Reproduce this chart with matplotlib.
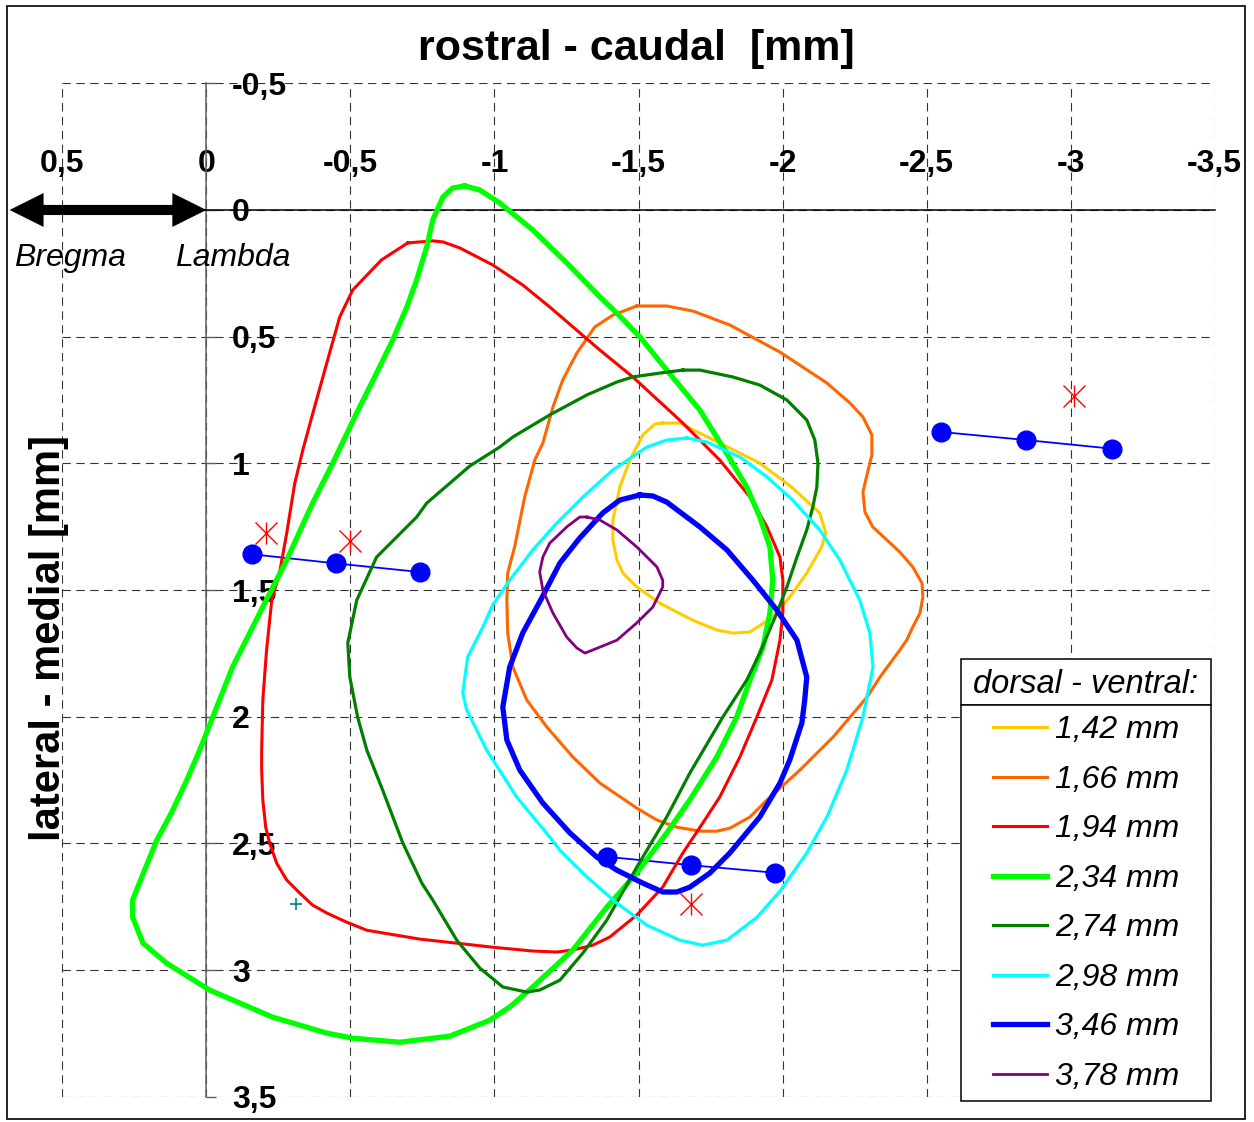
import matplotlib.pyplot as plt
from matplotlib.patches import Rectangle
from matplotlib.font_manager import FontProperties

plt.rcParams['font.family'] = ['Liberation Sans', 'DejaVu Sans']
plt.rcParams['lines.scale_dashes'] = False

# contour outlines, dorsal-ventral depth -> (rostral-caudal x, lateral-medial y) in mm
x_142 = [-1.584, -1.643, -1.782, -1.921, -2.035, -2.129, -2.150, -2.136, -2.084, -2.025, -1.966, -1.886,
         -1.827, -1.772, -1.688, -1.574, -1.494, -1.446, -1.425, -1.411, -1.411, -1.435, -1.470, -1.515, -1.557]
y_142 = [0.841, 0.841, 0.920, 0.999, 1.097, 1.196, 1.275, 1.330, 1.433, 1.528, 1.607, 1.666,
         1.670, 1.658, 1.619, 1.552, 1.488, 1.433, 1.382, 1.303, 1.224, 1.094, 0.987, 0.888, 0.845]

x_166 = [-1.494, -1.598, -1.689, -1.817, -1.991, -2.154, -2.234, -2.279, -2.310, -2.310, -2.293, -2.279,
         -2.286, -2.313, -2.407, -2.452, -2.484, -2.487, -2.477, -2.452, -2.431, -2.407, -2.338, -2.293,
         -2.175, -2.060, -1.946, -1.887, -1.817, -1.772, -1.713, -1.633, -1.564, -1.494, -1.366, -1.272,
         -1.182, -1.112, -1.064, -1.046, -1.043, -1.046, -1.070, -1.105, -1.140, -1.168, -1.203, -1.237,
         -1.286, -1.348, -1.411]
y_166 = [0.379, 0.379, 0.399, 0.454, 0.561, 0.683, 0.762, 0.817, 0.888, 0.967, 1.046, 1.113,
         1.192, 1.251, 1.350, 1.409, 1.473, 1.528, 1.591, 1.646, 1.698, 1.737, 1.844, 1.923,
         2.081, 2.211, 2.329, 2.396, 2.440, 2.452, 2.452, 2.436, 2.408, 2.361, 2.262, 2.159,
         2.041, 1.934, 1.804, 1.670, 1.540, 1.433, 1.330, 1.133, 0.987, 0.920, 0.778, 0.671,
         0.565, 0.462, 0.415]

x_194 = [-0.699, -0.786, -0.821, -0.880, -0.994, -1.098, -1.192, -1.366, -1.480, -1.654, -1.782, -1.887,
         -1.946, -1.991, -2.001, -2.001, -1.991, -1.963, -1.911, -1.852, -1.782, -1.723, -1.654, -1.584,
         -1.494, -1.400, -1.341, -1.272, -1.216, -1.133, -0.994, -0.869, -0.741, -0.557, -0.487, -0.418,
         -0.369, -0.324, -0.279, -0.244, -0.220, -0.206, -0.196, -0.192, -0.192, -0.196, -0.209, -0.227,
         -0.254, -0.279, -0.307, -0.335, -0.366, -0.421, -0.463, -0.508, -0.608]
y_194 = [0.130, 0.122, 0.126, 0.150, 0.217, 0.296, 0.383, 0.553, 0.659, 0.841, 0.987, 1.133,
         1.251, 1.370, 1.461, 1.591, 1.698, 1.855, 2.001, 2.159, 2.317, 2.420, 2.538, 2.673,
         2.783, 2.870, 2.902, 2.921, 2.929, 2.925, 2.910, 2.894, 2.878, 2.843, 2.811, 2.775,
         2.744, 2.696, 2.645, 2.578, 2.499, 2.436, 2.329, 2.211, 2.132, 1.934, 1.737, 1.540,
         1.433, 1.275, 1.078, 0.947, 0.817, 0.592, 0.422, 0.316, 0.197]

x_234 = [-0.897, -0.949, -1.018, -1.133, -1.251, -1.366, -1.425, -1.505, -1.598, -1.713, -1.793, -1.876,
         -1.921, -1.956, -1.966, -1.956, -1.932, -1.887, -1.841, -1.772, -1.678, -1.598, -1.494, -1.390,
         -1.272, -1.133, -1.053, -0.984, -0.845, -0.671, -0.508, -0.418, -0.230, -0.011, 0.138, 0.220,
         0.256, 0.256, 0.224, 0.172, 0.120, 0.068, 0.023, -0.091, -0.196, -0.279, -0.369, -0.439,
         -0.522, -0.591, -0.647, -0.696, -0.730, -0.765, -0.786, -0.821, -0.855]
y_234 = [-0.095, -0.079, -0.028, 0.079, 0.209, 0.343, 0.407, 0.501, 0.632, 0.790, 0.936, 1.094,
         1.212, 1.330, 1.461, 1.591, 1.725, 1.855, 2.001, 2.159, 2.329, 2.459, 2.617, 2.752,
         2.921, 3.067, 3.146, 3.198, 3.261, 3.285, 3.269, 3.249, 3.186, 3.079, 2.973, 2.894,
         2.791, 2.724, 2.633, 2.487, 2.377, 2.251, 2.132, 1.804, 1.567, 1.382, 1.157, 0.999,
         0.801, 0.644, 0.513, 0.383, 0.276, 0.146, 0.039, -0.051, -0.087]

x_274 = [-1.654, -1.713, -1.827, -1.921, -2.015, -2.084, -2.112, -2.123, -2.119, -2.105, -2.084, -2.050,
         -2.015, -1.980, -1.921, -1.876, -1.793, -1.678, -1.598, -1.494, -1.390, -1.307, -1.227, -1.157,
         -1.112, -1.029, -0.949, -0.869, -0.786, -0.748, -0.682, -0.612, -0.557, -0.525, -0.498, -0.491,
         -0.522, -0.591, -0.730, -0.765, -0.914, -1.018, -1.064, -1.192, -1.321, -1.425, -1.480, -1.598]
y_274 = [0.632, 0.632, 0.659, 0.691, 0.750, 0.829, 0.908, 0.999, 1.094, 1.173, 1.263, 1.370,
         1.488, 1.591, 1.749, 1.855, 2.001, 2.223, 2.396, 2.594, 2.803, 2.933, 3.040, 3.079,
         3.087, 3.067, 2.992, 2.882, 2.724, 2.657, 2.499, 2.290, 2.132, 2.001, 1.844, 1.709,
         1.540, 1.370, 1.212, 1.157, 1.011, 0.936, 0.896, 0.809, 0.730, 0.679, 0.659, 0.640]

x_298 = [-1.668, -1.737, -1.852, -1.946, -2.035, -2.129, -2.199, -2.268, -2.303, -2.314, -2.279, -2.223,
         -2.154, -2.084, -1.991, -1.911, -1.807, -1.723, -1.643, -1.529, -1.425, -1.321, -1.227, -1.192,
         -1.077, -0.973, -0.904, -0.890, -0.907, -0.960, -0.994, -1.053, -1.133, -1.216, -1.307, -1.411,
         -1.529, -1.598]
y_298 = [0.900, 0.916, 0.975, 1.054, 1.145, 1.263, 1.382, 1.540, 1.670, 1.804, 2.001, 2.211,
         2.396, 2.538, 2.689, 2.792, 2.882, 2.902, 2.882, 2.823, 2.736, 2.633, 2.527, 2.475,
         2.317, 2.132, 1.974, 1.907, 1.765, 1.646, 1.559, 1.461, 1.342, 1.236, 1.133, 1.026,
         0.936, 0.908]

x_346 = [-1.505, -1.550, -1.598, -1.713, -1.807, -1.897, -1.980, -2.050, -2.084, -2.077, -2.067, -2.025,
         -1.991, -1.921, -1.817, -1.748, -1.678, -1.633, -1.584, -1.515, -1.425, -1.355, -1.262, -1.168,
         -1.088, -1.043, -1.029, -1.053, -1.098, -1.164, -1.227, -1.296, -1.376, -1.435]
y_346 = [1.125, 1.129, 1.153, 1.251, 1.342, 1.461, 1.579, 1.698, 1.844, 1.934, 2.025, 2.171,
         2.262, 2.396, 2.538, 2.617, 2.673, 2.692, 2.692, 2.657, 2.606, 2.554, 2.459, 2.341,
         2.211, 2.092, 1.962, 1.804, 1.670, 1.532, 1.394, 1.295, 1.196, 1.145]

x_378 = [-1.321, -1.296, -1.251, -1.192, -1.168, -1.157, -1.168, -1.203, -1.251, -1.286, -1.314,
         -1.341, -1.425, -1.494, -1.550, -1.584, -1.584, -1.564, -1.494, -1.425, -1.366]
y_378 = [1.212, 1.212, 1.251, 1.315, 1.370, 1.429, 1.500, 1.591, 1.686, 1.729, 1.749,
         1.737, 1.698, 1.630, 1.567, 1.488, 1.461, 1.409, 1.330, 1.263, 1.224]

depth_labels = ['1,42 mm', '1,66 mm', '1,94 mm', '2,34 mm', '2,74 mm', '2,98 mm', '3,46 mm', '3,78 mm']

# electrode tracks (blue dots) and lesion marks
track1_x = [-0.160, -0.449, -0.741]
track1_y = [1.359, 1.395, 1.429]
track2_x = [-1.391, -1.681, -1.973]
track2_y = [2.553, 2.586, 2.616]
track3_x = [-2.549, -2.845, -3.142]
track3_y = [0.876, 0.908, 0.942]
star_x = [-0.206, -0.498, -1.683, -3.013]
star_y = [1.274, 1.306, 2.740, 0.734]
plus_x = [-0.310]
plus_y = [2.740]

x_ticks = [0.5, 0.0, -0.5, -1.0, -1.5, -2.0, -2.5, -3.0, -3.5]
x_tick_labels = ['0,5', '0', '-0,5', '-1', '-1,5', '-2', '-2,5', '-3', '-3,5']
y_ticks = [-0.5, 0.0, 0.5, 1.0, 1.5, 2.0, 2.5, 3.0, 3.5]
y_tick_labels = ['-0,5', '0', '0,5', '1', '1,5', '2', '2,5', '3', '3,5']

W, H = 1254, 1122
fig = plt.figure(figsize=(W / 100, H / 100), dpi=100)
ax = fig.add_axes([62.3 / W, 1 - 1096.7 / H, 1152.4 / W, 1013.4 / H])
ax.set_xlim(0.5, -3.5)
ax.set_ylim(3.5, -0.5)

# axes crossing at the origin
for side in ['left', 'bottom']:
    ax.spines[side].set_visible(False)
ax.spines['top'].set_position(('data', 0))
ax.spines['top'].set_color('black')
ax.spines['top'].set_linewidth(1.1)
ax.spines['right'].set_position(('data', 0))
ax.spines['right'].set_color('#606060')
ax.spines['right'].set_linewidth(1.1)
ax.xaxis.tick_top()
ax.yaxis.tick_right()
ax.set_xticks(x_ticks, x_tick_labels)
ax.set_yticks(y_ticks, y_tick_labels)
ax.tick_params(axis='x', length=0, pad=22, labelsize=23)
ax.tick_params(axis='y', length=7, width=1, color='#606060', direction='out', pad=11.5, labelsize=23)
for t in ax.get_xticklabels() + ax.get_yticklabels():
    t.set_fontweight('bold')
ax.grid(True, color='#333333', lw=0.8, linestyle=(0, (6, 4)))

# tracks and markers
for tx, ty in [(track1_x, track1_y), (track2_x, track2_y), (track3_x, track3_y)]:
    ax.plot(tx, ty, '-o', color='blue', ms=13.5, lw=1.3, zorder=2)
ax.plot(star_x, star_y, ls='none', marker='x', ms=16, mew=1, color='red', zorder=2)
ax.plot(star_x, star_y, ls='none', marker='|', ms=16.5, mew=1, color='red', zorder=2)
ax.plot(plus_x, plus_y, ls='none', marker='+', ms=8, mew=1.2, color='#008080', zorder=2)

contours = [(x_142, y_142, '#FFCC00', 2.2), (x_166, y_166, '#FF6600', 2.2),
            (x_194, y_194, '#FF0000', 2.2), (x_234, y_234, '#00FF00', 3.8),
            (x_274, y_274, '#008000', 2.3), (x_298, y_298, '#00FFFF', 2.3),
            (x_346, y_346, '#0000FF', 3.8), (x_378, y_378, '#800080', 2.0)]
handles = []
for (xs, ys, c, lw), lab in zip(contours, depth_labels):
    h, = ax.plot(xs + xs[:1], ys + ys[:1], color=c, lw=lw, label=lab, zorder=3,
                 solid_joinstyle='round')
    handles.append(h)

# Bregma <-> Lambda arrow
mid = 0.3415
for dx in [0.683 - mid, -mid]:
    ax.arrow(mid, 0, dx, 0, width=0.04, head_width=0.134, head_length=0.118,
             length_includes_head=True, color='black', lw=0, clip_on=False, zorder=4)
ax.text(0.666, 0.221, 'Bregma', ha='left', va='baseline', fontsize=23, fontstyle='italic')
ax.text(0.110, 0.221, 'Lambda', ha='left', va='baseline', fontsize=23, fontstyle='italic')

# titles
fig.text(636.5 / W, 1 - 60 / H, 'rostral - caudal  [mm]', ha='center', va='baseline',
         fontsize=31, fontweight='bold')
fig.text(49 / W, 1 - 638 / H, 'lateral - medial [mm]', ha='center', va='center',
         rotation=90, fontsize=30, fontweight='bold')

# legend with boxed title
for top, bot in [(659, 705), (705, 1100.7)]:
    ax.add_patch(Rectangle((961 / W, 1 - bot / H), 249.7 / W, (bot - top) / H,
                           transform=fig.transFigure, facecolor='white', edgecolor='black',
                           lw=1.1, clip_on=False, zorder=4.5))
fig.text(1085.9 / W, 1 - 692.7 / H, 'dorsal - ventral:', ha='center', va='baseline',
         fontsize=23.5, fontstyle='italic', zorder=6)
leg = ax.legend(handles=handles, loc='upper left', bbox_to_anchor=(993 / W, 1 - 715.5 / H),
                bbox_transform=fig.transFigure, frameon=False, borderpad=0, borderaxespad=0,
                labelspacing=0.61, handlelength=1.7, handletextpad=0.25,
                prop=FontProperties(family=['Liberation Sans'], style='italic', size=23))
leg.set_zorder(6)

# outer frame
fig.add_artist(Rectangle((7 / W, 1 - 1119 / H), 1238 / W, 1113 / H, transform=fig.transFigure,
                         fill=False, edgecolor='black', lw=1.2))

fig.savefig('out.png', dpi=100)
